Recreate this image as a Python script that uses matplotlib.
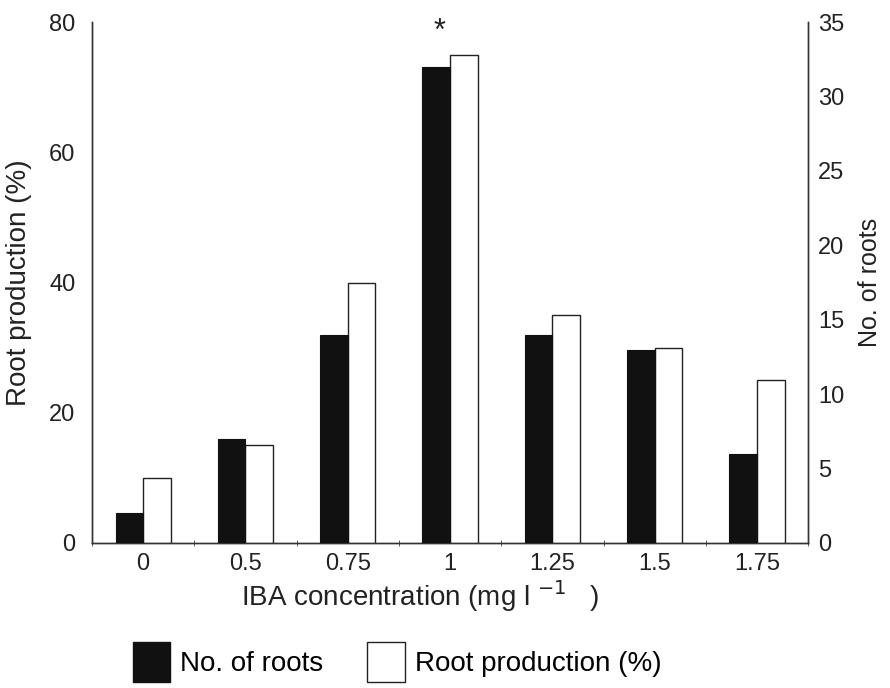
import matplotlib
import matplotlib.pyplot as plt
import numpy as np
from matplotlib.patches import Patch

matplotlib.rcParams["font.family"] = ["Liberation Sans", "DejaVu Sans"]
plt.switch_backend("agg")

# data
concentrations = ["0", "0.5", "0.75", "1", "1.25", "1.5", "1.75"]
num_roots = [2, 7, 14, 32, 14, 13, 6]            # right axis
root_production = [10, 15, 40, 75, 35, 30, 25]   # left axis (%)
left_ticks = [0, 20, 40, 60, 80]
right_ticks = [0, 5, 10, 15, 20, 25, 30, 35]

TXT = "#222222"


def main():
    fig = plt.figure(figsize=(8.9, 6.88), dpi=100)
    fig.patch.set_facecolor("white")
    ax = fig.add_axes([0.1034, 0.2108, 0.8046, 0.757])
    ax2 = ax.twinx()

    x = np.arange(len(concentrations))
    w = 0.27

    ax.bar(x + w / 2, root_production, width=w, color="white",
           edgecolor="#222222", linewidth=1.0, zorder=3)
    ax2.bar(x - w / 2, num_roots, width=w, color="#111111",
            edgecolor="#111111", linewidth=0.8, zorder=3)

    ax.set_xlim(-0.5, len(concentrations) - 0.5)
    ax.set_ylim(0, 80)
    ax2.set_ylim(0, 35)

    ax.set_yticks(left_ticks)
    ax2.set_yticks(right_ticks)
    ax.set_xticks(x)
    ax.set_xticklabels(concentrations)
    ax.set_xticks(np.arange(-0.5, len(concentrations)), minor=True)

    ax.tick_params(axis="x", which="major", length=0, labelsize=17, pad=7,
                   colors=TXT)
    ax.tick_params(axis="x", which="minor", length=4, direction="inout",
                   color="#444444")
    ax.tick_params(axis="y", length=0, labelsize=17, pad=12, colors=TXT)
    ax2.tick_params(axis="y", length=0, labelsize=17, pad=7, colors=TXT)

    for a in (ax, ax2):
        a.spines["top"].set_visible(False)
        for s in ("left", "right", "bottom"):
            a.spines[s].set_color("#333333")
            a.spines[s].set_linewidth(1.0)

    ax.set_ylabel("Root production (%)", fontsize=20, color=TXT)
    ax.yaxis.set_label_coords(-0.084, 0.5)
    ax2.set_ylabel("No. of roots", fontsize=18, color=TXT)
    ax2.yaxis.set_label_coords(1.07, 0.5)
    ax.set_xlabel("IBA concentration (mg l $^{-1}$   )", fontsize=20, color=TXT)
    ax.xaxis.set_label_coords(0.458, -0.068)

    # significance mark above the 1 mg/l group
    ax.text(3 - 0.1, 78.5, "*", ha="center", va="center", fontsize=22,
            color=TXT)

    handles = [
        Patch(facecolor="#111111", edgecolor="#111111", label="No. of roots"),
        Patch(facecolor="white", edgecolor="#222222", label="Root production (%)"),
    ]
    fig.legend(handles=handles, loc="center left", bbox_to_anchor=(0.149, 0.038),
               ncol=2, frameon=False, fontsize=20, handlelength=1.35,
               handleheight=1.8, columnspacing=1.6, handletextpad=0.35,
               borderpad=0, borderaxespad=0)

    fig.savefig("out.png", dpi=100, facecolor="white")
    plt.close(fig)


if __name__ == "__main__":
    main()
